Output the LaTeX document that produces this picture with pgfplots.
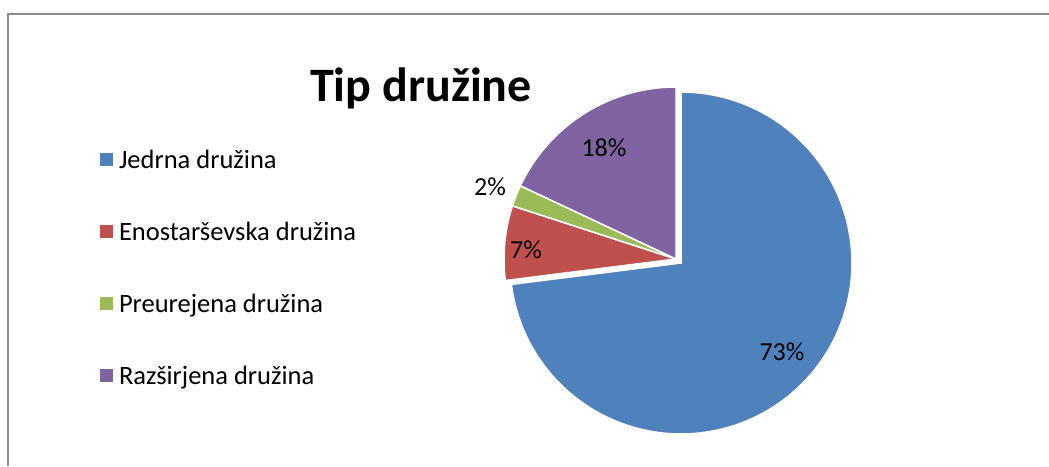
\documentclass[border=0pt]{standalone}
\usepackage{fontspec}
\setmainfont{Carlito}
\usepackage{pgfplots}
\usepackage{pgfplotstable}
\pgfplotsset{compat=1.18}
\definecolor{cA}{HTML}{4F81BD}
\definecolor{cB}{HTML}{C0504D}
\definecolor{cC}{HTML}{9BBB59}
\definecolor{cD}{HTML}{8064A2}
\definecolor{frame}{HTML}{8C8C8C}
\pgfplotstableread{
name share
Jedrna 73
Enostarsevska 7
Preurejena 2
Razsirjena 18
}\piedata
\pgfplotstablegetelem{0}{share}\of\piedata \let\sA\pgfplotsretval
\pgfplotstablegetelem{1}{share}\of\piedata \let\sB\pgfplotsretval
\pgfplotstablegetelem{2}{share}\of\piedata \let\sC\pgfplotsretval
\pgfplotstablegetelem{3}{share}\of\piedata \let\sD\pgfplotsretval
\pgfmathsetmacro\aA{90}
\pgfmathsetmacro\aB{\aA-3.6*\sA}
\pgfmathsetmacro\aC{\aB-3.6*\sB}
\pgfmathsetmacro\aD{\aC-3.6*\sC}
\pgfmathsetmacro\aE{\aD-3.6*\sD}
\begin{document}%
\begin{tikzpicture}
\begin{axis}[
  scale only axis, width=1049pt, height=466pt,
  xmin=0, xmax=1049, ymin=0, ymax=466,
  hide axis,
  legend style={at={(axis cs:100,318)}, anchor=north west, draw=none, fill=none,
    inner sep=0pt, outer sep=0pt,
    font=\fontsize{26.5}{31}\selectfont, row sep=48pt,
    /tikz/every odd column/.append style={column sep=4pt},
    /tikz/every even column/.append style={column sep=0pt}},
  legend cell align=left,
  legend image code/.code={\fill[#1, draw=none] (0pt,-6.5pt) rectangle (13pt,6.5pt);},
]
\draw[frame, line width=1.5pt] (axis cs:8,0) -- (axis cs:8,452) -- (axis cs:1049,452);
\addplot[fill=cA, draw=white, line width=1.5pt, domain=\aB:\aA, samples=120]
  ({681+171*cos(x)},{203+171*sin(x)}) -- (axis cs:681,203) -- cycle;
\addlegendentry{Jedrna družina}
\addplot[fill=cB, draw=white, line width=1.5pt, domain=\aC:\aB, samples=30]
  ({676+172*cos(x)},{207+172*sin(x)}) -- (axis cs:676,207) -- cycle;
\addlegendentry{Enostarševska družina}
\addplot[fill=cC, draw=white, line width=1.5pt, domain=\aD:\aC, samples=15]
  ({676+172*cos(x)},{207+172*sin(x)}) -- (axis cs:676,207) -- cycle;
\addlegendentry{Preurejena družina}
\addplot[fill=cD, draw=white, line width=1.5pt, domain=\aE:\aD, samples=60]
  ({676+172*cos(x)},{207+172*sin(x)}) -- (axis cs:676,207) -- cycle;
\addlegendentry{Razširjena družina}
\node[font=\fontsize{26}{30}\selectfont] at (axis cs:604,318) {18\%};
\node[font=\fontsize{26}{30}\selectfont] at (axis cs:490,279) {2\%};
\node[font=\fontsize{26}{30}\selectfont] at (axis cs:526,216) {7\%};
\node[font=\fontsize{26}{30}\selectfont] at (axis cs:782,114) {73\%};
\node[font=\fontsize{48}{56}\selectfont\bfseries, anchor=base] at (axis cs:421,364) {Tip družine};
\end{axis}
\pgfresetboundingbox
\path (current axis.south west) rectangle (current axis.north east);
\end{tikzpicture}%
\end{document}
